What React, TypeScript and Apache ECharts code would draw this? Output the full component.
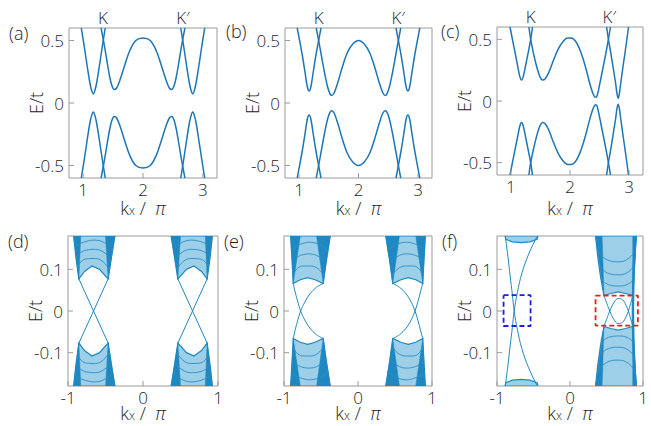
import React, { useEffect, useRef } from "react";
import * as echarts from "echarts";

type P = [number, number];

// ---------------- ticks & labels ----------------
const topXTicks = [1, 2, 3];
const topYTicks = [-0.5, 0, 0.5];
const botXTicks = [-1, 0, 1];
const botYTicks = [-0.1, 0, 0.1];
const valleyLabels = ["K", "K′"];
const valleyPositions = [1.333, 2.667];
const panelLabels = ["(a)", "(b)", "(c)", "(d)", "(e)", "(f)"];
const yName = "E/t";

// ---------------- (a) ----------------
const aC1: P[] = [[0.97,0.6],[1.02,0.45],[1.07,0.29],[1.11,0.17],[1.14,0.105],[1.17,0.072],[1.2,0.105],[1.23,0.17],[1.27,0.29],[1.32,0.45],[1.37,0.6]];
const aC2: P[] = [[1.3,0.6],[1.34,0.5],[1.39,0.36],[1.44,0.22],[1.48,0.14],[1.52,0.108],[1.56,0.12],[1.62,0.19],[1.7,0.31],[1.78,0.42],[1.88,0.5],[2.0,0.52],[2.12,0.5],[2.22,0.42],[2.3,0.31],[2.38,0.19],[2.44,0.12],[2.48,0.108],[2.52,0.14],[2.56,0.22],[2.61,0.36],[2.66,0.5],[2.7,0.6]];
const aC3: P[] = [[2.63,0.6],[2.68,0.45],[2.73,0.29],[2.77,0.17],[2.8,0.105],[2.83,0.072],[2.86,0.105],[2.89,0.17],[2.93,0.29],[2.98,0.45],[3.03,0.6]];
const aV1: P[] = [[0.97,-0.6],[1.02,-0.45],[1.07,-0.29],[1.11,-0.17],[1.14,-0.105],[1.17,-0.072],[1.2,-0.105],[1.23,-0.17],[1.27,-0.29],[1.32,-0.45],[1.37,-0.6]];
const aV2: P[] = [[1.3,-0.6],[1.34,-0.5],[1.39,-0.36],[1.44,-0.22],[1.48,-0.14],[1.52,-0.108],[1.56,-0.12],[1.62,-0.19],[1.7,-0.31],[1.78,-0.42],[1.88,-0.5],[2.0,-0.52],[2.12,-0.5],[2.22,-0.42],[2.3,-0.31],[2.38,-0.19],[2.44,-0.12],[2.48,-0.108],[2.52,-0.14],[2.56,-0.22],[2.61,-0.36],[2.66,-0.5],[2.7,-0.6]];
const aV3: P[] = [[2.63,-0.6],[2.68,-0.45],[2.73,-0.29],[2.77,-0.17],[2.8,-0.105],[2.83,-0.072],[2.86,-0.105],[2.89,-0.17],[2.93,-0.29],[2.98,-0.45],[3.03,-0.6]];

// ---------------- (b) ----------------
const bC1: P[] = [[0.97,0.6],[1.01,0.5],[1.06,0.37],[1.1,0.25],[1.14,0.13],[1.17,0.096],[1.2,0.13],[1.24,0.25],[1.28,0.37],[1.33,0.5],[1.37,0.6]];
const bC2: P[] = [[1.29,0.6],[1.33,0.5],[1.38,0.37],[1.43,0.24],[1.48,0.13],[1.52,0.075],[1.55,0.061],[1.59,0.08],[1.65,0.16],[1.73,0.29],[1.81,0.4],[1.9,0.47],[2.0,0.5],[2.1,0.47],[2.19,0.4],[2.27,0.29],[2.35,0.16],[2.41,0.08],[2.45,0.061],[2.48,0.075],[2.52,0.13],[2.57,0.24],[2.62,0.37],[2.67,0.5],[2.71,0.6]];
const bC3: P[] = [[2.63,0.6],[2.67,0.5],[2.72,0.37],[2.76,0.25],[2.8,0.13],[2.83,0.096],[2.86,0.13],[2.9,0.25],[2.94,0.37],[2.99,0.5],[3.03,0.6]];
const bV1: P[] = [[0.97,-0.6],[1.01,-0.5],[1.06,-0.37],[1.1,-0.25],[1.14,-0.13],[1.17,-0.096],[1.2,-0.13],[1.24,-0.25],[1.28,-0.37],[1.33,-0.5],[1.37,-0.6]];
const bV2: P[] = [[1.29,-0.6],[1.33,-0.5],[1.38,-0.37],[1.43,-0.24],[1.48,-0.13],[1.52,-0.075],[1.55,-0.061],[1.59,-0.08],[1.65,-0.16],[1.73,-0.29],[1.81,-0.4],[1.9,-0.47],[2.0,-0.5],[2.1,-0.47],[2.19,-0.4],[2.27,-0.29],[2.35,-0.16],[2.41,-0.08],[2.45,-0.061],[2.48,-0.075],[2.52,-0.13],[2.57,-0.24],[2.62,-0.37],[2.67,-0.5],[2.71,-0.6]];
const bV3: P[] = [[2.63,-0.6],[2.67,-0.5],[2.72,-0.37],[2.76,-0.25],[2.8,-0.13],[2.83,-0.096],[2.86,-0.13],[2.9,-0.25],[2.94,-0.37],[2.99,-0.5],[3.03,-0.6]];

// ---------------- (c) ----------------
const cC1: P[] = [[0.985,0.6],[1.03,0.49],[1.08,0.37],[1.12,0.27],[1.15,0.2],[1.18,0.17],[1.21,0.2],[1.25,0.29],[1.29,0.385],[1.335,0.5],[1.365,0.6]];
const cC2: P[] = [[1.305,0.6],[1.335,0.5],[1.38,0.39],[1.43,0.29],[1.48,0.21],[1.51,0.18],[1.54,0.17],[1.58,0.18],[1.64,0.23],[1.72,0.33],[1.8,0.42],[1.88,0.48],[1.96,0.51],[2.02,0.51],[2.1,0.48],[2.18,0.4],[2.26,0.28],[2.33,0.15],[2.38,0.07],[2.41,0.04],[2.435,0.03],[2.46,0.045],[2.5,0.13],[2.55,0.25],[2.6,0.37],[2.65,0.5],[2.685,0.6]];
const cC3: P[] = [[2.62,0.6],[2.65,0.5],[2.69,0.39],[2.73,0.27],[2.77,0.15],[2.795,0.06],[2.815,0.022],[2.835,0.06],[2.86,0.15],[2.9,0.29],[2.945,0.44],[2.99,0.6]];
const cV1: P[] = [[0.985,-0.6],[1.03,-0.49],[1.08,-0.37],[1.12,-0.275],[1.15,-0.205],[1.18,-0.175],[1.21,-0.205],[1.25,-0.295],[1.29,-0.39],[1.335,-0.5],[1.365,-0.6]];
const cV2: P[] = [[1.305,-0.6],[1.335,-0.5],[1.38,-0.395],[1.43,-0.295],[1.48,-0.215],[1.51,-0.185],[1.54,-0.175],[1.58,-0.185],[1.64,-0.235],[1.72,-0.335],[1.8,-0.425],[1.88,-0.485],[1.96,-0.515],[2.02,-0.515],[2.1,-0.485],[2.18,-0.405],[2.26,-0.285],[2.33,-0.155],[2.38,-0.075],[2.41,-0.042],[2.435,-0.03],[2.46,-0.045],[2.5,-0.13],[2.55,-0.25],[2.6,-0.37],[2.65,-0.5],[2.685,-0.6]];
const cV3: P[] = [[2.62,-0.6],[2.65,-0.5],[2.69,-0.39],[2.73,-0.27],[2.77,-0.15],[2.795,-0.06],[2.815,-0.027],[2.835,-0.06],[2.86,-0.15],[2.9,-0.29],[2.945,-0.44],[2.99,-0.6]];

// ---------------- (d) ----------------
const dLCo: P[] = [[-0.925,0.18],[-0.895,0.13],[-0.855,0.077],[-0.78,0.095],[-0.68,0.108],[-0.58,0.1],[-0.465,0.077],[-0.42,0.13],[-0.375,0.18]];
const dLCw: P[] = [[-0.925,0.18],[-0.83,0.18],[-0.855,0.077]];
const dLCi: P[] = [[-0.375,0.18],[-0.5,0.18],[-0.465,0.077]];
const dLCa1: P[] = [[-0.875,0.105],[-0.76,0.125],[-0.63,0.126],[-0.45,0.1]];
const dLCa2: P[] = [[-0.89,0.13],[-0.76,0.146],[-0.63,0.148],[-0.43,0.125]];
const dLCa3: P[] = [[-0.905,0.155],[-0.76,0.167],[-0.63,0.17],[-0.41,0.15]];
const dLVo: P[] = [[-0.925,-0.18],[-0.895,-0.13],[-0.855,-0.077],[-0.78,-0.095],[-0.68,-0.108],[-0.58,-0.1],[-0.465,-0.077],[-0.42,-0.13],[-0.375,-0.18]];
const dLVw: P[] = [[-0.925,-0.18],[-0.83,-0.18],[-0.855,-0.077]];
const dLVi: P[] = [[-0.375,-0.18],[-0.5,-0.18],[-0.465,-0.077]];
const dLVa1: P[] = [[-0.875,-0.105],[-0.76,-0.125],[-0.63,-0.126],[-0.45,-0.1]];
const dLVa2: P[] = [[-0.89,-0.13],[-0.76,-0.146],[-0.63,-0.148],[-0.43,-0.125]];
const dLVa3: P[] = [[-0.905,-0.155],[-0.76,-0.167],[-0.63,-0.17],[-0.41,-0.15]];
const dRCo: P[] = [[0.925,0.18],[0.895,0.13],[0.855,0.077],[0.78,0.095],[0.68,0.108],[0.58,0.1],[0.465,0.077],[0.42,0.13],[0.375,0.18]];
const dRCw: P[] = [[0.925,0.18],[0.83,0.18],[0.855,0.077]];
const dRCi: P[] = [[0.375,0.18],[0.5,0.18],[0.465,0.077]];
const dRCa1: P[] = [[0.875,0.105],[0.76,0.125],[0.63,0.126],[0.45,0.1]];
const dRCa2: P[] = [[0.89,0.13],[0.76,0.146],[0.63,0.148],[0.43,0.125]];
const dRCa3: P[] = [[0.905,0.155],[0.76,0.167],[0.63,0.17],[0.41,0.15]];
const dRVo: P[] = [[0.925,-0.18],[0.895,-0.13],[0.855,-0.077],[0.78,-0.095],[0.68,-0.108],[0.58,-0.1],[0.465,-0.077],[0.42,-0.13],[0.375,-0.18]];
const dRVw: P[] = [[0.925,-0.18],[0.83,-0.18],[0.855,-0.077]];
const dRVi: P[] = [[0.375,-0.18],[0.5,-0.18],[0.465,-0.077]];
const dRVa1: P[] = [[0.875,-0.105],[0.76,-0.125],[0.63,-0.126],[0.45,-0.1]];
const dRVa2: P[] = [[0.89,-0.13],[0.76,-0.146],[0.63,-0.148],[0.43,-0.125]];
const dRVa3: P[] = [[0.905,-0.155],[0.76,-0.167],[0.63,-0.17],[0.41,-0.15]];
const dE1: P[] = [[-0.855,0.077],[-0.66,0],[-0.465,-0.077]];
const dE2: P[] = [[-0.855,-0.077],[-0.66,0],[-0.465,0.077]];
const dE3: P[] = [[0.465,0.077],[0.66,0],[0.855,-0.077]];
const dE4: P[] = [[0.465,-0.077],[0.66,0],[0.855,0.077]];

// ---------------- (e) ----------------
const eLCo: P[] = [[-0.91,0.18],[-0.89,0.12],[-0.875,0.066],[-0.78,0.075],[-0.68,0.08],[-0.58,0.075],[-0.47,0.066],[-0.43,0.12],[-0.375,0.18]];
const eLCw: P[] = [[-0.91,0.18],[-0.78,0.18],[-0.875,0.066]];
const eLCi: P[] = [[-0.375,0.18],[-0.56,0.18],[-0.47,0.066]];
const eLCa1: P[] = [[-0.87,0.09],[-0.75,0.108],[-0.63,0.108],[-0.46,0.085]];
const eLCa2: P[] = [[-0.885,0.12],[-0.75,0.135],[-0.64,0.137],[-0.43,0.115]];
const eLCa3: P[] = [[-0.895,0.15],[-0.75,0.162],[-0.64,0.165],[-0.4,0.145]];
const eLVo: P[] = [[-0.91,-0.18],[-0.89,-0.12],[-0.875,-0.066],[-0.78,-0.075],[-0.68,-0.08],[-0.58,-0.075],[-0.47,-0.066],[-0.43,-0.12],[-0.375,-0.18]];
const eLVw: P[] = [[-0.91,-0.18],[-0.78,-0.18],[-0.875,-0.066]];
const eLVi: P[] = [[-0.375,-0.18],[-0.56,-0.18],[-0.47,-0.066]];
const eLVa1: P[] = [[-0.87,-0.09],[-0.75,-0.108],[-0.63,-0.108],[-0.46,-0.085]];
const eLVa2: P[] = [[-0.885,-0.12],[-0.75,-0.135],[-0.64,-0.137],[-0.43,-0.115]];
const eLVa3: P[] = [[-0.895,-0.15],[-0.75,-0.162],[-0.64,-0.165],[-0.4,-0.145]];
const eRCo: P[] = [[0.91,0.18],[0.89,0.12],[0.875,0.066],[0.78,0.075],[0.68,0.08],[0.58,0.075],[0.47,0.066],[0.43,0.12],[0.375,0.18]];
const eRCw: P[] = [[0.91,0.18],[0.78,0.18],[0.875,0.066]];
const eRCi: P[] = [[0.375,0.18],[0.56,0.18],[0.47,0.066]];
const eRCa1: P[] = [[0.87,0.09],[0.75,0.108],[0.63,0.108],[0.46,0.085]];
const eRCa2: P[] = [[0.885,0.12],[0.75,0.135],[0.64,0.137],[0.43,0.115]];
const eRCa3: P[] = [[0.895,0.15],[0.75,0.162],[0.64,0.165],[0.4,0.145]];
const eRVo: P[] = [[0.91,-0.18],[0.89,-0.12],[0.875,-0.066],[0.78,-0.075],[0.68,-0.08],[0.58,-0.075],[0.47,-0.066],[0.43,-0.12],[0.375,-0.18]];
const eRVw: P[] = [[0.91,-0.18],[0.78,-0.18],[0.875,-0.066]];
const eRVi: P[] = [[0.375,-0.18],[0.56,-0.18],[0.47,-0.066]];
const eRVa1: P[] = [[0.87,-0.09],[0.75,-0.108],[0.63,-0.108],[0.46,-0.085]];
const eRVa2: P[] = [[0.885,-0.12],[0.75,-0.135],[0.64,-0.137],[0.43,-0.115]];
const eRVa3: P[] = [[0.895,-0.15],[0.75,-0.162],[0.64,-0.165],[0.4,-0.145]];
const eE1: P[] = [[-0.47,0.066],[-0.56,0.057],[-0.65,0.041],[-0.72,0.021],[-0.775,0],[-0.82,-0.026],[-0.855,-0.05],[-0.875,-0.066]];
const eE2: P[] = [[-0.47,-0.066],[-0.56,-0.057],[-0.65,-0.041],[-0.72,-0.021],[-0.775,0],[-0.82,0.026],[-0.855,0.05],[-0.875,0.066]];
const eE3: P[] = [[0.47,0.066],[0.56,0.057],[0.65,0.041],[0.72,0.021],[0.77,0],[0.815,-0.026],[0.85,-0.05],[0.875,-0.066]];
const eE4: P[] = [[0.47,-0.066],[0.56,-0.057],[0.65,-0.041],[0.72,-0.021],[0.77,0],[0.815,0.026],[0.85,0.05],[0.875,0.066]];

// ---------------- (f) ----------------
const fLTo: P[] = [[-0.89,0.18],[-0.44,0.18],[-0.45,0.172],[-0.55,0.166],[-0.67,0.164],[-0.79,0.166],[-0.88,0.172]];
const fLBo: P[] = [[-0.89,-0.18],[-0.44,-0.18],[-0.45,-0.172],[-0.55,-0.166],[-0.67,-0.164],[-0.79,-0.166],[-0.88,-0.172]];
const fE1: P[] = [[-0.885,0.178],[-0.85,0.13],[-0.82,0.084],[-0.79,0.04],[-0.765,0],[-0.72,-0.045],[-0.66,-0.09],[-0.57,-0.135],[-0.455,-0.178]];
const fE2: P[] = [[-0.885,-0.178],[-0.85,-0.13],[-0.82,-0.084],[-0.79,-0.04],[-0.765,0],[-0.72,0.045],[-0.66,0.09],[-0.57,0.135],[-0.455,0.178]];
const fRUo: P[] = [[0.35,0.18],[0.38,0.13],[0.42,0.08],[0.465,0.037],[0.56,0.042],[0.66,0.046],[0.76,0.042],[0.86,0.037],[0.875,0.09],[0.893,0.14],[0.91,0.18]];
const fRUw: P[] = [[0.35,0.18],[0.44,0.18],[0.465,0.037]];
const fRUi: P[] = [[0.86,0.18],[0.91,0.18],[0.86,0.037]];
const fRUa1: P[] = [[0.435,0.075],[0.55,0.062],[0.68,0.06],[0.8,0.065],[0.868,0.075]];
const fRUa2: P[] = [[0.405,0.11],[0.53,0.09],[0.67,0.087],[0.8,0.094],[0.88,0.11]];
const fRUa3: P[] = [[0.38,0.145],[0.52,0.122],[0.66,0.118],[0.8,0.126],[0.895,0.145]];
const fRLo: P[] = [[0.35,-0.18],[0.38,-0.13],[0.42,-0.08],[0.465,-0.037],[0.56,-0.042],[0.66,-0.046],[0.76,-0.042],[0.86,-0.037],[0.875,-0.09],[0.893,-0.14],[0.91,-0.18]];
const fRLw: P[] = [[0.35,-0.18],[0.44,-0.18],[0.465,-0.037]];
const fRLi: P[] = [[0.86,-0.18],[0.91,-0.18],[0.86,-0.037]];
const fRLa1: P[] = [[0.435,-0.075],[0.55,-0.062],[0.68,-0.06],[0.8,-0.065],[0.868,-0.075]];
const fRLa2: P[] = [[0.405,-0.11],[0.53,-0.09],[0.67,-0.087],[0.8,-0.094],[0.88,-0.11]];
const fRLa3: P[] = [[0.38,-0.145],[0.52,-0.122],[0.66,-0.118],[0.8,-0.126],[0.895,-0.145]];
const fRline: P[] = [[0.895,0.18],[0.872,0.09],[0.862,0],[0.872,-0.09],[0.895,-0.18]];
const fR1: P[] = [[0.465,0.037],[0.505,0.018],[0.545,0],[0.6,-0.02],[0.66,-0.03],[0.72,-0.027],[0.77,-0.013],[0.8,0],[0.83,0.018],[0.86,0.037]];
const fR2: P[] = [[0.465,-0.037],[0.505,-0.018],[0.545,0],[0.6,0.02],[0.66,0.03],[0.72,0.027],[0.77,0.013],[0.8,0],[0.83,-0.018],[0.86,-0.037]];
const blueBox: P[] = [[-0.91,0.038],[-0.54,0.038],[-0.54,-0.036],[-0.91,-0.036],[-0.91,0.038]];
const redBox: P[] = [[0.35,0.037],[0.93,0.037],[0.93,-0.035],[0.35,-0.035],[0.35,0.037]];

// ---------------- styles / layout ----------------
const FONT = "'Open Sans', 'Noto Sans', sans-serif";
const TEXT = "#1e1e1e";
const GRAY = "#9a9a9a";
const BAND = "#1b76b6";
const BULK = "#2088c0";
const BULK_FILL = "#9dcfe8";
const ARC = "#2a8fc6";

const TOP_X: [number, number] = [0.765, 3.235];
const TOP_Y: [number, number] = [-0.6, 0.6];
const BOT_X: [number, number] = [-1, 1];
const BOT_Y: [number, number] = [-0.18, 0.18];

const grids = [
  { left: 69, top: 28, width: 148, height: 150 },
  { left: 285, top: 28, width: 147, height: 150 },
  { left: 497, top: 27, width: 146, height: 148 },
  { left: 68, top: 236, width: 150, height: 150 },
  { left: 284, top: 236, width: 148, height: 150 },
  { left: 497, top: 236, width: 146, height: 150 },
];
const labelPos: [number, number][] = [
  [9, 35], [226, 33], [441, 33], [8, 243], [224, 243], [442, 243],
];
const xNameY = [208, 208, 208, 413, 413, 413];

function line(g: number, data: P[], color: string, width: number, z = 4, smooth: boolean | number = 0.4, type: any = "solid") {
  return {
    type: "line", xAxisIndex: g, yAxisIndex: g, data, symbol: "none", showSymbol: false,
    smooth, lineStyle: { color, width, type }, z, silent: true, clip: true,
  };
}
function poly(g: number, pts: P[], fill: string, z = 1, stroke?: string, lw = 0.6) {
  return {
    type: "custom", coordinateSystem: "cartesian2d", xAxisIndex: g, yAxisIndex: g,
    data: [pts[0]], z, silent: true, clip: true,
    renderItem: (_p: any, api: any) => ({
      type: "polygon",
      shape: { points: pts.map((p) => api.coord(p)) },
      style: { fill, stroke: stroke ?? fill, lineWidth: stroke ? lw : 0.5 },
    }),
  };
}
const tickFont = { fontSize: 17, fontFamily: FONT, fontWeight: 300, fill: TEXT, lineHeight: 16 };
// inward tick marks + tick labels placed through the axes' scales
function axisDecor(g: number, xt: number[], yt: number[], xr: [number, number], yr: [number, number]) {
  return {
    type: "custom", coordinateSystem: "cartesian2d", xAxisIndex: g, yAxisIndex: g,
    data: [[xr[0], yr[0]]], z: 7, silent: true, clip: false,
    renderItem: (_p: any, api: any) => {
      const children: any[] = [];
      xt.forEach((v) => {
        const p = api.coord([v, yr[0]]);
        children.push({ type: "line", shape: { x1: p[0], y1: p[1], x2: p[0], y2: p[1] - 5 }, style: { stroke: GRAY, lineWidth: 1 } });
        children.push({ type: "text", x: p[0], y: p[1] + 3, style: { text: String(v), ...tickFont, align: "center", verticalAlign: "top" } });
      });
      yt.forEach((v) => {
        const p = api.coord([xr[0], v]);
        children.push({ type: "line", shape: { x1: p[0], y1: p[1], x2: p[0] + 5, y2: p[1] }, style: { stroke: GRAY, lineWidth: 1 } });
        children.push({ type: "text", x: p[0] - 5, y: p[1], style: { text: String(v), ...tickFont, align: "right", verticalAlign: "middle" } });
      });
      return { type: "group", children };
    },
  };
}

const nameRich = {
  k: { fontSize: 18, fontFamily: FONT, fontWeight: 300, fill: TEXT, lineHeight: 16 },
  s: { fontSize: 12, fontFamily: FONT, fontWeight: 300, fill: TEXT, lineHeight: 9, verticalAlign: "bottom" },
  p: { fontSize: 18, fontFamily: FONT, fontWeight: 300, fontStyle: "italic", fill: TEXT, lineHeight: 16 },
};
const xName = "{k|k}{s|x}{k| /  }{p|π}";

export default function App() {
  const ref = useRef<HTMLDivElement>(null);
  useEffect(() => {
    if (!ref.current) return;
    const chart = echarts.init(ref.current, undefined, { renderer: "svg" });

    const xAxes = grids.map((_, i) => {
      const r = i < 3 ? TOP_X : BOT_X;
      return { type: "value", gridIndex: i, min: r[0], max: r[1], show: false, splitLine: { show: false } };
    });
    const yAxes = grids.map((_, i) => {
      const r = i < 3 ? TOP_Y : BOT_Y;
      return { type: "value", gridIndex: i, min: r[0], max: r[1], show: false, splitLine: { show: false } };
    });

    const series: any[] = [];
    const topBands: P[][][] = [
      [aC1, aC2, aC3, aV1, aV2, aV3],
      [bC1, bC2, bC3, bV1, bV2, bV3],
      [cC1, cC2, cC3, cV1, cV2, cV3],
    ];
    topBands.forEach((bands, g) => bands.forEach((b) => series.push(line(g, b, BAND, 1.5, 4, 0.35))));

    const bulk = (g: number, fills: P[][], wedges: P[][], arcs: P[][]) => {
      fills.forEach((f) => series.push(poly(g, f, BULK_FILL, 1, BULK, 1.2)));
      wedges.forEach((w) => series.push(poly(g, w, BULK, 2)));
      arcs.forEach((a) => series.push(line(g, a, ARC, 0.9, 3, 0.5)));
    };
    bulk(3, [dLCo, dLVo, dRCo, dRVo],
      [dLCw, dLCi, dLVw, dLVi, dRCw, dRCi, dRVw, dRVi],
      [dLCa1, dLCa2, dLCa3, dLVa1, dLVa2, dLVa3, dRCa1, dRCa2, dRCa3, dRVa1, dRVa2, dRVa3]);
    [dE1, dE2, dE3, dE4].forEach((e) => series.push(line(3, e, BULK, 1, 4, false)));

    bulk(4, [eLCo, eLVo, eRCo, eRVo],
      [eLCw, eLCi, eLVw, eLVi, eRCw, eRCi, eRVw, eRVi],
      [eLCa1, eLCa2, eLCa3, eLVa1, eLVa2, eLVa3, eRCa1, eRCa2, eRCa3, eRVa1, eRVa2, eRVa3]);
    [eE1, eE2, eE3, eE4].forEach((e) => series.push(line(4, e, BULK, 1, 4, 0.4)));

    [fLTo, fLBo].forEach((f) => series.push(poly(5, f, BULK_FILL, 1, BULK, 1.2)));
    bulk(5, [fRUo, fRLo], [fRUw, fRUi, fRLw, fRLi], [fRUa1, fRUa2, fRUa3, fRLa1, fRLa2, fRLa3]);
    series.push(line(5, fRline, BULK, 2.5, 3, 0.4));
    [fE1, fE2, fR1, fR2].forEach((e) => series.push(line(5, e, BULK, 1, 4, 0.4)));
    series.push(line(5, blueBox, "#1f1fd6", 1.8, 6, false, [5, 3]));
    series.push(line(5, redBox, "#ec1c1c", 1.8, 6, false, [5, 3]));

    for (let g = 0; g < 6; g++) {
      const top = g < 3;
      series.push(axisDecor(g, top ? topXTicks : botXTicks, top ? topYTicks : botYTicks,
        top ? TOP_X : BOT_X, top ? TOP_Y : BOT_Y));
    }

    const graphic: any[] = [];
    grids.forEach((gr, i) => {
      graphic.push({
        type: "text", left: labelPos[i][0], top: labelPos[i][1] - 11, silent: true,
        style: { text: panelLabels[i], fontSize: 18, fontFamily: FONT, fontWeight: 300, fill: TEXT },
      });
      graphic.push({
        type: "text", x: gr.left + gr.width / 2, y: xNameY[i], silent: true,
        style: { text: xName, rich: nameRich, align: "center", verticalAlign: "middle", fill: TEXT },
      });
      graphic.push({
        type: "text", x: gr.left - 33, y: gr.top + gr.height / 2, rotation: Math.PI / 2, silent: true,
        style: { text: yName, fontSize: 18, fontFamily: FONT, fontWeight: 300, fill: TEXT, align: "center", verticalAlign: "middle" },
      });
    });

    const base = {
      animation: false,
      backgroundColor: "#ffffff",
      textStyle: { fontFamily: FONT },
      grid: grids.map((g) => ({ ...g, show: true, borderColor: GRAY, borderWidth: 1, backgroundColor: "transparent", containLabel: false, outerBoundsMode: "none" })),
      xAxis: xAxes,
      yAxis: yAxes,
      series,
    };
    chart.setOption({ ...base, graphic });

    // valley labels K / K′ above the top panels, positioned with the axes' scales
    for (let g = 0; g < 3; g++) {
      valleyPositions.forEach((v, i) => {
        const p = chart.convertToPixel({ gridIndex: g }, [v, TOP_Y[1]]) as number[];
        graphic.push({
          type: "text", x: p[0], y: p[1] - 2, silent: true,
          style: { text: valleyLabels[i], fontSize: 17, fontFamily: FONT, fontWeight: 300, fill: TEXT, align: "center", verticalAlign: "bottom" },
        });
      });
    }
    chart.setOption({ graphic });
    return () => chart.dispose();
  }, []);
  return <div ref={ref} style={{ position: "fixed", left: 0, top: 0, width: 651, height: 426 }} />;
}
